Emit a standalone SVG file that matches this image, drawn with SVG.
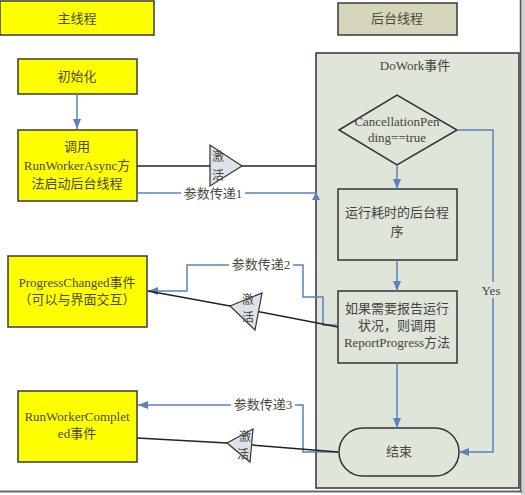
<svg xmlns="http://www.w3.org/2000/svg" width="525" height="495" viewBox="0 0 525 495">
<defs>
<marker id="ab" markerUnits="userSpaceOnUse" markerWidth="10" markerHeight="8" refX="10" refY="4" orient="auto"><path d="M0,0 L10,4 L0,8 z" fill="#5b82bd"/></marker>
<style>
.t{font-family:"Liberation Serif","Noto Sans CJK SC",serif;font-size:13px;text-anchor:middle;fill:#4a4a3a}
.p{fill:#444}
.s{font-size:12px}
.y{fill:#ffff00;stroke:#3a3a3a;stroke-width:1.5}
.in{fill:none;stroke:#333;stroke-width:1.5}
.bl{fill:none;stroke:#5b82bd;stroke-width:1.5}
.bk{fill:none;stroke:#222;stroke-width:1.5}
.tri{fill:#dde3ec;stroke:#333;stroke-width:1.2}
.lb{fill:#fff}
</style>
</defs>
<rect width="525" height="495" fill="#fff"/>
<rect x="521" y="0" width="4" height="495" fill="#d0d0d0"/>
<g id="panel">
<rect x="316" y="53" width="203" height="435" fill="#dfe5d9" stroke="#333" stroke-width="1.5"/>
<text class="t p" x="415" y="70">DoWork事件</text>
</g>
<line x1="520.5" y1="0" x2="520.5" y2="492" stroke="#555" stroke-width="1.5"/>
<line x1="0" y1="491.5" x2="522" y2="491.5" stroke="#666" stroke-width="2"/>
<g id="main-thread"><rect class="y" x="0" y="1" width="154" height="34"/><text class="t" x="77" y="23">主线程</text></g>
<g id="bg-thread"><rect x="338" y="3" width="119" height="32" fill="#d6d6bb" stroke="#3a3a3a" stroke-width="1.5"/><text class="t" x="397" y="23">后台线程</text></g>
<g id="init"><rect class="y" x="18" y="59" width="119" height="35"/><text class="t" x="77" y="81">初始化</text></g>
<g id="call"><rect class="y" x="18" y="130" width="119" height="71"/><text class="t" x="77" y="151">调用</text><text class="t" x="77" y="170">RunWorkerAsync方</text><text class="t" x="77" y="188">法启动后台线程</text></g>
<g id="progress"><rect class="y" x="8" y="256" width="139" height="71"/><text class="t" x="77" y="287">ProgressChanged事件</text><text class="t" x="77" y="304">（可以与界面交互）</text></g>
<g id="completed"><rect class="y" x="18" y="391" width="119" height="71"/><text class="t" x="77" y="421">RunWorkerComplet</text><text class="t" x="77" y="438">ed事件</text></g>
<g id="diamond"><polygon class="in" points="339,130 397,95 457,130 397,165"/><text class="t p" x="397" y="126">CancellationPen</text><text class="t p" x="397" y="142">ding==true</text></g>
<g id="work"><rect class="in" x="338" y="189" width="119" height="71"/><text class="t p" x="397" y="217">运行耗时的后台程</text><text class="t p" x="397" y="236">序</text></g>
<g id="report"><rect class="in" x="338" y="291" width="119" height="72"/><text class="t p" x="397" y="313">如果需要报告运行</text><text class="t p" x="397" y="330">状况，则调用</text><text class="t p" x="397" y="347">ReportProgress方法</text></g>
<g id="end"><rect class="in" x="339" y="428" width="120" height="48" rx="24"/><text class="t p" x="399" y="456">结束</text></g>
<g id="connectors">
<path class="bl" d="M77,94 V129" marker-end="url(#ab)"/>
<path class="bl" d="M397,165 V189" marker-end="url(#ab)"/>
<path class="bl" d="M397,260 V291" marker-end="url(#ab)"/>
<path class="bl" d="M397,363 V428" marker-end="url(#ab)"/>
<path class="bl" d="M457,130 H493 V452 H459" marker-end="url(#ab)"/>
<rect x="480" y="282" width="24" height="16" fill="#dfe5d9"/>
<text class="t p" x="491" y="295">Yes</text>
<path class="bl" d="M137,193 H316"/>
<polygon points="316,192 312,200 320,200" fill="#5b82bd"/>
<path class="bk" d="M137,166 H316"/>
<path class="bl" d="M338,325 H323 V297 H303 V265 H187 V291 H148" marker-end="url(#ab)"/>
<path class="bk" d="M338,327 L230,306 L148,291"/>
<path class="bl" d="M338,452 H303 V405 H138" marker-end="url(#ab)"/>
<path class="bk" d="M338,452 L227,443 L137,438"/>
<rect class="lb" x="181" y="186" width="64" height="15"/>
<text class="t" x="213" y="198">参数传递1</text>
<rect class="lb" x="229" y="258" width="64" height="15"/>
<text class="t" x="261" y="269">参数传递2</text>
<rect class="lb" x="231" y="398" width="64" height="15"/>
<text class="t" x="263" y="409">参数传递3</text>
</g>
<g id="activate1"><polygon class="tri" points="210,145 210,186 242,166"/><text class="t s" x="218" y="161">激</text><text class="t s" x="218" y="180">活</text></g>
<g id="activate2"><polygon class="tri" points="230,306 262,293 255,330"/><text class="t s" x="248" y="304">激</text><text class="t s" x="248" y="322">活</text></g>
<g id="activate3"><polygon class="tri" points="227,443 253,429 250,462"/><text class="t s" x="245" y="441">激</text><text class="t s" x="243" y="459">活</text></g>
</svg>
